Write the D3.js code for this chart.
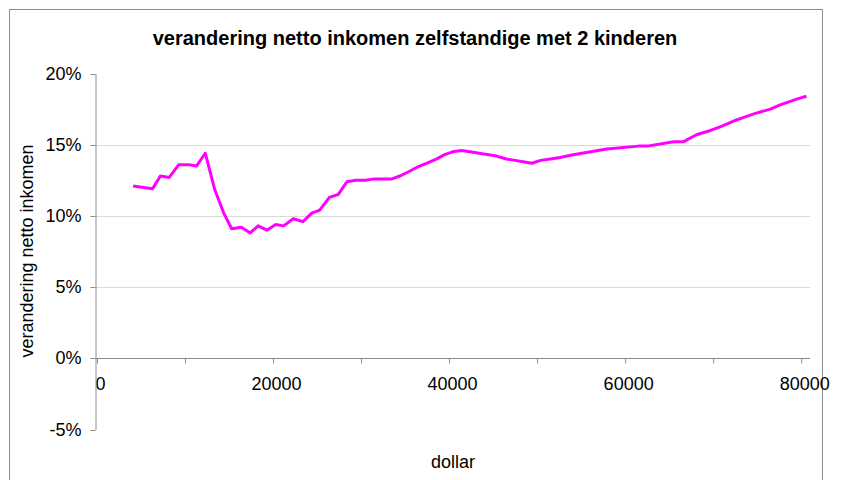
<!DOCTYPE html>
<html>
<head>
<meta charset="utf-8">
<script src="https://cdn.jsdelivr.net/npm/d3@7"></script>
<style>
  body { margin: 0; background: #ffffff; }
  svg { display: block; font-family: "Liberation Sans", Arial, sans-serif; }
  .axis path, .axis line { stroke: #8c8c8c; }
  .axis text { font-size: 18px; fill: #000; }
</style>
</head>
<body>
<div id="chart"></div>
<script>

// Chart data
var incomeDollars = [4100, 6300, 7200, 8200, 9300, 10400, 11300, 12300, 13400, 14400,
                     15300, 16400, 17400, 18300, 19300, 20300, 21200, 22300, 23400, 24400,
                     25300, 26400, 27400, 28400, 29400, 30500, 31500, 32500, 33500, 34400,
                     35400, 36300, 37500, 38600, 39500, 40400, 41400, 42400, 43400, 44500,
                     45400, 46500, 47500, 48400, 49400, 50400, 51500, 52600, 54100, 57900,
                     61500, 62500, 65500, 66600, 68100, 69700, 71000, 72500, 73400, 74800,
                     76500, 77600, 79500, 80600];
var changePct = [12.1, 11.9, 12.8, 12.7, 13.6, 13.6, 13.5, 14.4, 11.8, 10.2,
                 9.1, 9.2, 8.8, 9.3, 9.0, 9.4, 9.3, 9.8, 9.6, 10.2,
                 10.4, 11.3, 11.5, 12.4, 12.5, 12.5, 12.6, 12.6, 12.6, 12.8,
                 13.1, 13.4, 13.7, 14.0, 14.3, 14.5, 14.6, 14.5, 14.4, 14.3,
                 14.2, 14.0, 13.9, 13.8, 13.7, 13.9, 14.0, 14.1, 14.3, 14.7,
                 14.9, 14.9, 15.2, 15.2, 15.7, 16.0, 16.3, 16.7, 16.9, 17.2,
                 17.5, 17.8, 18.2, 18.4];

// Tick values
var yTicks = [-5, 0, 5, 10, 15, 20];
var yGridTicks = [5, 10, 15];
var xTicks = [0, 10000, 20000, 30000, 40000, 50000, 60000, 70000, 80000];
var xLabelTicks = [0, 20000, 40000, 60000, 80000];

var titleText = 'verandering netto inkomen zelfstandige met 2 kinderen';
var yTitleText = 'verandering netto inkomen';
var xTitleText = 'dollar';

// Sizes
var width = 847, height = 480;
var plot = {left: 95.5, right: 810, top: 73.5, bottom: 429.5};

var svg = d3.select('#chart')
            .append('svg')
            .attr('width', width)
            .attr('height', height);

// Outer chart border (runs off the bottom of the picture)
svg.append('rect')
   .attr('x', 9.5)
   .attr('y', 9.5)
   .attr('width', 813)
   .attr('height', 520)
   .attr('fill', 'none')
   .attr('stroke', '#8c8c8c');

// Scales
var x = d3.scaleLinear()
    .domain([0, 81000])
    .range([plot.left + 1.5, plot.right]);

var y = d3.scaleLinear()
    .domain([-5, 20])
    .range([plot.bottom, plot.top]);

// Gridlines
svg.append('g')
   .selectAll('line')
   .data(yGridTicks)
   .enter()
   .append('line')
   .attr('x1', plot.left)
   .attr('x2', plot.right)
   .attr('y1', function(d) { return Math.round(y(d)) + 0.5; })
   .attr('y2', function(d) { return Math.round(y(d)) + 0.5; })
   .attr('stroke', '#d9d9d9')
   .attr('stroke-width', 1);

// X axis at 0%
var xAxis = svg.append('g')
   .attr('class', 'axis axis--x')
   .attr('transform', 'translate(0,' + (Math.round(y(0)) + 0.5) + ')')
   .call(d3.axisBottom(x)
           .tickValues(xTicks)
           .tickSize(5)
           .tickSizeOuter(0)
           .tickPadding(14)
           .tickFormat(function(d) {
             return xLabelTicks.indexOf(d) != -1 ? d : '';
           }));
xAxis.select('.domain').attr('d', 'M' + plot.left + ',0H' + plot.right);
xAxis.selectAll('text').attr('dx', 3);

// Y axis
var yAxis = svg.append('g')
   .attr('class', 'axis axis--y')
   .attr('transform', 'translate(' + plot.left + ',0)')
   .call(d3.axisLeft(y)
           .tickValues(yTicks)
           .tickSize(5)
           .tickSizeOuter(0)
           .tickPadding(9)
           .tickFormat(function(d) { return d + '%'; }));
yAxis.selectAll('.tick')
     .attr('transform', function(d) {
       return 'translate(0,' + (Math.round(y(d)) + 0.5) + ')';
     });

// Data line
var line = d3.line()
    .x(function(d, i) { return x(incomeDollars[i]); })
    .y(function(d) { return y(d); });

svg.append('path')
   .datum(changePct)
   .attr('fill', 'none')
   .attr('stroke', '#ff00ff')
   .attr('stroke-width', 3)
   .attr('stroke-linejoin', 'round')
   .attr('d', line);

// Titles
svg.append('text')
   .attr('x', 415)
   .attr('y', 45)
   .attr('text-anchor', 'middle')
   .style('font-size', '20px')
   .style('font-weight', 'bold')
   .text(titleText);

svg.append('text')
   .attr('transform', 'translate(33,251) rotate(-90)')
   .attr('text-anchor', 'middle')
   .style('font-size', '18px')
   .text(yTitleText);

svg.append('text')
   .attr('x', 453)
   .attr('y', 468)
   .attr('text-anchor', 'middle')
   .style('font-size', '18px')
   .text(xTitleText);

</script>
</body>
</html>
